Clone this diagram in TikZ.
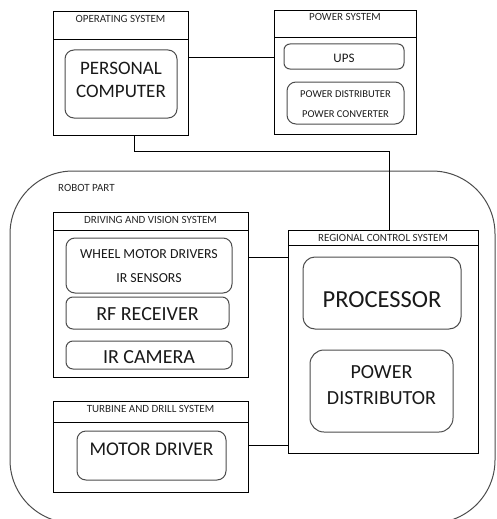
\documentclass[tikz,border=0pt]{standalone}
\usepackage{fontspec}
\setmainfont{Carlito}
\begin{document}
\begin{tikzpicture}[x=1pt,y=-1pt,
  sysbox/.style={draw=black,line width=0.9pt,rectangle,inner sep=0pt},
  rbox/.style={draw=black!70,line width=1pt,rectangle,rounded corners=9pt,inner sep=0pt},
  hdr/.style={font=\fontsize{11}{12}\selectfont,text=black!85,inner sep=0pt},
  txt/.style={text=black!90,inner sep=0pt},
  wire/.style={draw=black,line width=0.9pt}]
\useasboundingbox (0,0) rectangle (496,519);
% robot part
\begin{scope}
\clip (0,0) rectangle (496,519);
\node[draw=black!70,line width=1pt,rectangle,rounded corners=63pt,inner sep=0pt,
  minimum width=485pt,minimum height=352pt] (robot) at (252.5,347) {};
\end{scope}
\node[hdr,anchor=west] (robotlbl) at (58,188) {ROBOT PART};
% operating system
\node[sysbox,minimum width=135pt,minimum height=124pt] (os) at (120.5,73) {};
\draw[line width=0.9pt] (53,39) -- (188,39);
\node[hdr] (oslbl) at (120.5,19) {OPERATING SYSTEM};
\node[rbox,minimum width=112pt,minimum height=68pt] (pc) at (121,84) {};
\node[txt,font=\fontsize{19}{23}\selectfont,align=center] (pclbl) at (121,79.5) {PERSONAL\\COMPUTER};
% power system
\node[sysbox,minimum width=142pt,minimum height=124pt] (ps) at (345,72) {};
\draw[line width=0.9pt] (274,37) -- (416,37);
\node[hdr] (pslbl) at (345,17) {POWER SYSTEM};
\node[rbox,rounded corners=6pt,minimum width=120pt,minimum height=25pt] (ups) at (344,56.5) {};
\node[txt,font=\fontsize{13}{14}\selectfont] (upslbl) at (344,58) {UPS};
\node[rbox,minimum width=117pt,minimum height=42pt] (pdc) at (345.5,103) {};
\node[txt,font=\fontsize{10.5}{20}\selectfont,align=center] (pdclbl) at (345.5,104) {POWER DISTRIBUTER\\POWER CONVERTER};
% driving and vision
\node[sysbox,minimum width=195pt,minimum height=165pt] (dvs) at (150.5,294.5) {};
\draw[line width=0.9pt] (53,230) -- (248,230);
\node[hdr] (dvslbl) at (150.5,219.5) {DRIVING AND VISION SYSTEM};
\node[rbox,minimum width=166pt,minimum height=55pt] (wmd) at (149,265.5) {};
\node[txt,font=\fontsize{13.8}{24}\selectfont,align=center] (wmdlbl) at (149,266) {WHEEL MOTOR DRIVERS\\IR SENSORS};
\node[rbox,rounded corners=7pt,minimum width=163pt,minimum height=32pt] (rf) at (147.5,313) {};
\node[txt,font=\fontsize{20}{22}\selectfont] (rflbl) at (147.5,314) {RF RECEIVER};
\node[rbox,rounded corners=7pt,minimum width=166pt,minimum height=28pt] (irc) at (149,355) {};
\node[txt,font=\fontsize{20}{22}\selectfont] (irclbl) at (149,357) {IR CAMERA};
% regional control
\node[sysbox,minimum width=190pt,minimum height=223pt] (rcs) at (383,341.5) {};
\draw[line width=0.9pt] (288,245) -- (478,245);
\node[hdr] (rcslbl) at (383,237.5) {REGIONAL CONTROL SYSTEM};
\node[rbox,rounded corners=12pt,minimum width=158pt,minimum height=72pt] (proc) at (382,293) {};
\node[txt,font=\fontsize{24.5}{26}\selectfont] (proclbl) at (382,300) {PROCESSOR};
\node[rbox,rounded corners=14pt,minimum width=143pt,minimum height=82pt] (pdist) at (381.5,391) {};
\node[txt,font=\fontsize{20}{26}\selectfont,align=center] (pdistlbl) at (381.5,385) {POWER\\DISTRIBUTOR};
% turbine and drill
\node[sysbox,minimum width=195pt,minimum height=91pt] (tds) at (150.5,446.5) {};
\draw[line width=0.9pt] (53,422) -- (248,422);
\node[hdr] (tdslbl) at (150.5,408.5) {TURBINE AND DRILL SYSTEM};
\node[rbox,rounded corners=9pt,minimum width=149pt,minimum height=49pt] (md) at (151.5,455.5) {};
\node[txt,font=\fontsize{19.4}{22}\selectfont] (mdlbl) at (151.5,449) {MOTOR DRIVER};
% connectors
\coordinate (c1) at (0,57);
\coordinate (c2) at (134,151);
\coordinate (c3) at (389,151);
\coordinate (c4) at (0,257);
\coordinate (c5) at (0,445);
\draw[wire] (os.east |- c1) -- (ps.west |- c1);
\draw[wire] (os.south -| c2) -- (c2) -- (c3) -- (rcs.north -| c3);
\draw[wire] (dvs.east |- c4) -- (rcs.west |- c4);
\draw[wire] (tds.east |- c5) -- (rcs.west |- c5);
\end{tikzpicture}
\end{document}
